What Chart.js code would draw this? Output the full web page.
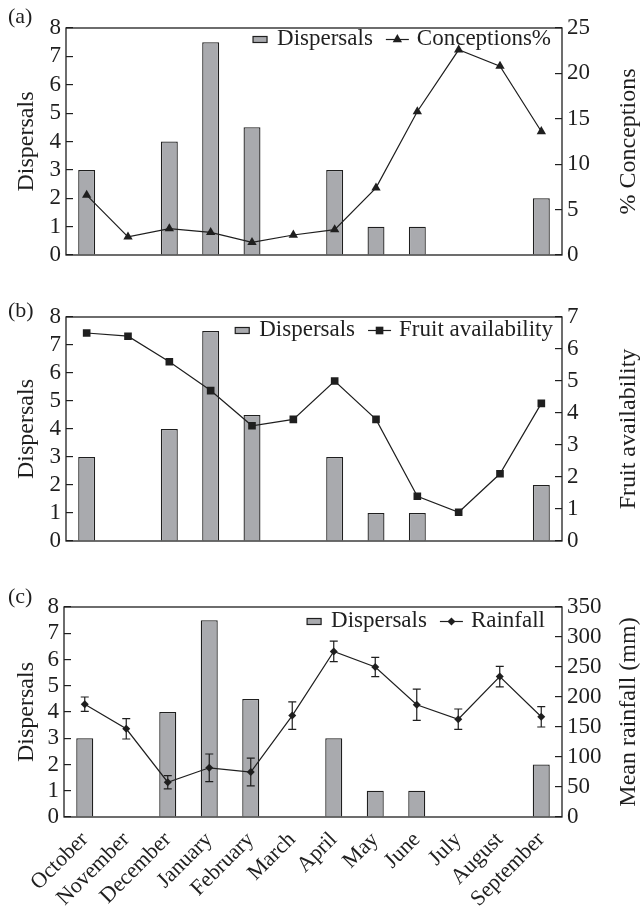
<!DOCTYPE html>
<html>
<head>
<meta charset="utf-8">
<script src="https://cdn.jsdelivr.net/npm/chart.js@4.4.0/dist/chart.umd.min.js"></script>
<style>
  html, body { margin: 0; padding: 0; background: #ffffff; }
  #wrap { position: relative; width: 643px; height: 908px; overflow: hidden; }
  .pc { position: absolute; left: 0; width: 643px; }
  .plab { position: absolute; left: 8px; font-family: 'Liberation Serif', serif; font-size: 22px; line-height: 22px; color: #1f1f1f; }
</style>
</head>
<body>
<div id="wrap">
  <div class="pc" style="top:0px;height:290px"><canvas id="chartA" width="643" height="290"></canvas></div>
  <div class="pc" style="top:290px;height:290px"><canvas id="chartB" width="643" height="290"></canvas></div>
  <div class="pc" style="top:580px;height:328px"><canvas id="chartC" width="643" height="328"></canvas></div>
  <div class="plab" style="top:5px">(a)</div>
  <div class="plab" style="top:299px">(b)</div>
  <div class="plab" style="top:585px">(c)</div>
</div>
<script>
// ---------------- data ----------------
const months = ['October', 'November', 'December', 'January', 'February', 'March',
                'April', 'May', 'June', 'July', 'August', 'September'];
const dispersals = [3, 0, 4, 7.5, 4.5, 0, 3, 1, 1, 0, 0, 2];
const conceptions = [6.6, 2.0, 2.9, 2.5, 1.4, 2.2, 2.8, 7.4, 15.8, 22.6, 20.8, 13.6];
const fruitAvailability = [6.5, 6.4, 5.6, 4.7, 3.6, 3.8, 5.0, 3.8, 1.4, 0.9, 2.1, 4.3];
const rainfall = [188, 147, 58, 82, 75, 169, 276, 250, 187, 163, 234, 167];
const rainfallErr = [12, 17, 11, 23, 23, 23, 17, 16, 26, 17, 17, 17];

// ---------------- style ----------------
const INK = '#1f1f1f';
const BAR_FILL = '#a9aaae';
const FONT = 'Liberation Serif';

const framePlugin = {
  id: 'frame',
  afterDraw(chart) {
    const { ctx, chartArea: a } = chart;
    ctx.save();
    ctx.strokeStyle = INK;
    ctx.lineWidth = 1.3;
    ctx.strokeRect(a.left, a.top, a.right - a.left, a.bottom - a.top);
    ctx.restore();
  }
};

const errorBarPlugin = {
  id: 'errorBars',
  afterDatasetsDraw(chart, args, opts) {
    if (!opts || !opts.errors) return;
    const ds = chart.data.datasets[opts.datasetIndex];
    const meta = chart.getDatasetMeta(opts.datasetIndex);
    const scale = chart.scales[ds.yAxisID];
    const ctx = chart.ctx;
    const c = opts.capWidth / 2;
    ctx.save();
    ctx.strokeStyle = INK;
    ctx.lineWidth = 1.2;
    meta.data.forEach((pt, i) => {
      const v = ds.data[i], e = opts.errors[i];
      const yT = scale.getPixelForValue(v + e);
      const yB = scale.getPixelForValue(v - e);
      const x = pt.x;
      ctx.beginPath();
      ctx.moveTo(x, yT); ctx.lineTo(x, yB);
      ctx.moveTo(x - c, yT); ctx.lineTo(x + c, yT);
      ctx.moveTo(x - c, yB); ctx.lineTo(x + c, yB);
      ctx.stroke();
    });
    ctx.restore();
  }
};

const rightTitlePlugin = {
  id: 'rightTitle',
  afterDraw(chart, args, opts) {
    const s = chart.scales.y1;
    const t = s.options.title;
    const a = chart.chartArea;
    const ctx = chart.ctx;
    ctx.save();
    ctx.translate(s.right - opts.offset, (a.top + a.bottom) / 2);
    ctx.rotate(-Math.PI / 2);
    ctx.textAlign = 'center';
    ctx.textBaseline = 'middle';
    ctx.fillStyle = INK;
    ctx.font = opts.fontSize + 'px "' + FONT + '"';
    ctx.fillText(t.text, 0, 0);
    ctx.restore();
  }
};

const insideLegendPlugin = {
  id: 'insideLegend',
  afterDraw(chart, args, opts) {
    const { ctx, chartArea: a } = chart;
    const bar = chart.data.datasets.find(d => d.type === 'bar');
    const line = chart.data.datasets.find(d => d.type === 'line');
    ctx.save();
    ctx.font = opts.fontSize + 'px "' + FONT + '"';
    ctx.textBaseline = 'alphabetic';
    ctx.textAlign = 'left';
    const baseY = a.top + opts.baseline;
    const w1 = ctx.measureText(bar.label).width;
    const w2 = ctx.measureText(line.label).width;
    const boxW = 14, boxH = 6, gapBT = 10, gapItems = 13, lineW = 23, gapLT = 8;
    const total = boxW + gapBT + w1 + gapItems + lineW + gapLT + w2;
    let x = a.right - opts.rightGap - total;
    const symY = baseY - 5.5;
    ctx.fillStyle = bar.backgroundColor;
    ctx.fillRect(x, symY - boxH / 2, boxW, boxH);
    ctx.strokeStyle = bar.borderColor;
    ctx.lineWidth = 1.2;
    ctx.strokeRect(x, symY - boxH / 2, boxW, boxH);
    x += boxW + gapBT;
    ctx.fillStyle = INK;
    ctx.fillText(bar.label, x, baseY);
    x += w1 + gapItems;
    ctx.strokeStyle = line.borderColor;
    ctx.lineWidth = line.borderWidth;
    ctx.beginPath();
    ctx.moveTo(x, symY); ctx.lineTo(x + lineW, symY);
    ctx.stroke();
    ctx.fillStyle = line.pointBackgroundColor;
    Chart.helpers.drawPoint(ctx, { pointStyle: line.pointStyle, radius: line.pointRadius, rotation: 0, borderWidth: 0 }, x + lineW / 2, symY);
    x += lineW + gapLT;
    ctx.fillStyle = INK;
    ctx.fillText(line.label, x, baseY);
    ctx.restore();
  }
};

function makeChart(id, cfg) {
  const tickFont = { family: FONT, size: 23 };
  return new Chart(document.getElementById(id), {
    data: {
      labels: months,
      datasets: [
        {
          type: 'line', label: cfg.lineLabel, data: cfg.lineData, yAxisID: 'y1',
          borderColor: INK, borderWidth: 1.2, tension: 0,
          pointStyle: cfg.pointStyle, pointRadius: cfg.pointRadius,
          pointBackgroundColor: INK, pointBorderColor: INK, pointBorderWidth: 0,
          order: 0
        },
        {
          type: 'bar', label: 'Dispersals', data: dispersals, yAxisID: 'y',
          backgroundColor: BAR_FILL, borderColor: INK, borderWidth: 1.3,
          barPercentage: 0.41, categoryPercentage: 1.0, order: 1
        }
      ]
    },
    options: {
      responsive: false,
      animation: false,
      layout: { padding: { top: cfg.topPad, left: 0, right: 0, bottom: 0 } },
      plugins: {
        legend: { display: false },
        tooltip: { enabled: false },
        errorBars: cfg.errors ? { errors: cfg.errors, datasetIndex: 0, capWidth: 8 } : {},
        rightTitle: { offset: 14, fontSize: 24 },
        insideLegend: { fontSize: 23, baseline: cfg.legendBaseline, rightGap: cfg.legendRightGap }
      },
      scales: {
        x: {
          offset: true,
          grid: { display: false },
          border: { display: false },
          ticks: {
            display: cfg.showX, font: { family: FONT, size: 22 }, color: INK,
            maxRotation: 45, minRotation: 45, padding: 2, autoSkip: false
          },
          afterFit(s) { s.height = cfg.xHeight; }
        },
        y: {
          position: 'left', min: 0, max: 8,
          ticks: { stepSize: 1, font: tickFont, color: INK, padding: 12, autoSkip: false },
          grid: { drawOnChartArea: false, tickLength: -7, color: INK, lineWidth: 1.2 },
          border: { display: false },
          title: { display: true, text: 'Dispersals', color: INK, font: { family: FONT, size: 24 }, padding: { top: 12, bottom: 0 } },
          afterFit(s) { s.width = cfg.leftW; }
        },
        y1: {
          position: 'right', min: 0, max: cfg.lineMax,
          ticks: { stepSize: cfg.lineStep, font: tickFont, color: INK, padding: 12, autoSkip: false },
          grid: { drawOnChartArea: false, tickLength: -7, color: INK, lineWidth: 1.2 },
          border: { display: false },
          title: { display: false, text: cfg.rightTitle },
          afterFit(s) { s.width = 81; }
        }
      }
    },
    plugins: [framePlugin, errorBarPlugin, rightTitlePlugin, insideLegendPlugin]
  });
}

makeChart('chartA', {
  lineLabel: 'Conceptions%', lineData: conceptions, pointStyle: 'triangle', pointRadius: 5.4,
  lineMax: 25, lineStep: 5, rightTitle: '% Conceptions',
  showX: false, topPad: 28, xHeight: 35, leftW: 66,
  legendBaseline: 17, legendRightGap: 11
});
makeChart('chartB', {
  lineLabel: 'Fruit availability', lineData: fruitAvailability, pointStyle: 'rect', pointRadius: 5.4,
  lineMax: 7, lineStep: 1, rightTitle: 'Fruit availability',
  showX: false, topPad: 27, xHeight: 39, leftW: 66,
  legendBaseline: 19, legendRightGap: 9
});
makeChart('chartC', {
  lineLabel: 'Rainfall', lineData: rainfall, pointStyle: 'rectRot', pointRadius: 4,
  lineMax: 350, lineStep: 50, rightTitle: 'Mean rainfall (mm)',
  showX: true, topPad: 27, xHeight: 91, leftW: 64,
  legendBaseline: 20, legendRightGap: 17, errors: rainfallErr
});
</script>
</body>
</html>
